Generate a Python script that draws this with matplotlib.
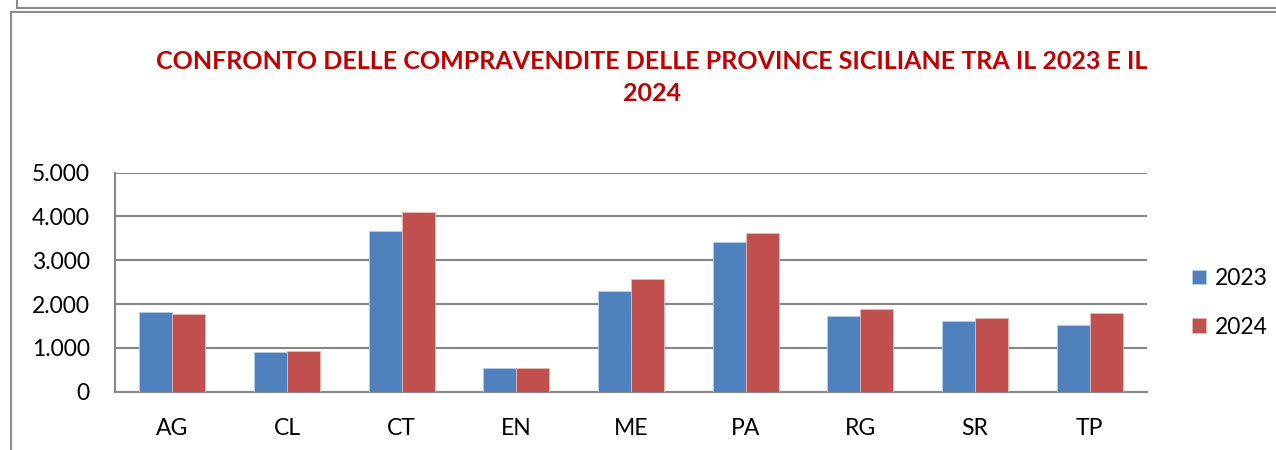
import matplotlib.pyplot as plt
from matplotlib.lines import Line2D
from matplotlib.ticker import FuncFormatter
import numpy as np

plt.rcParams['font.family'] = ['Lato', 'DejaVu Sans']

province = ["AG", "CL", "CT", "EN", "ME", "PA", "RG", "SR", "TP"]
anni = ["2023", "2024"]
vendite_2023 = [1813, 900, 3669, 548, 2299, 3411, 1735, 1614, 1523]
vendite_2024 = [1767, 929, 4096, 548, 2573, 3623, 1881, 1675, 1797]
colori = ["#4F81BD", "#C0504D"]

fig = plt.figure(figsize=(12.76, 4.5), dpi=100)
ax = fig.add_axes([0.0901, 0.1296, 0.8088, 0.4867])

x = np.arange(len(province))
w = 0.287
ax.bar(x - w / 2, vendite_2023, w, color=colori[0], edgecolor="#B9CDE5", linewidth=0.6, label=anni[0], zorder=3)
ax.bar(x + w / 2, vendite_2024, w, color=colori[1], edgecolor="#E6B9B8", linewidth=0.6, label=anni[1], zorder=3)

ax.set_xlim(-0.5, len(province) - 0.5)
ax.set_ylim(0, 5000)
ax.set_yticks(range(0, 5001, 1000))
ax.yaxis.set_major_formatter(FuncFormatter(lambda v, p: f"{int(v):,}".replace(",", ".")))
ax.set_xticks(x)
ax.set_xticklabels(province)
ax.tick_params(axis="both", length=0, labelsize=16.5, colors="black")
ax.tick_params(axis="y", pad=18)
ax.tick_params(axis="x", pad=19)
ax.grid(axis="y", color="#868686", linewidth=1.5, zorder=0)
for s in ["top", "right"]:
    ax.spines[s].set_visible(False)
for s in ["left", "bottom"]:
    ax.spines[s].set_color("#868686")
    ax.spines[s].set_linewidth(1.5)

leg = fig.legend(loc="center left", bbox_to_anchor=(0.918, 0.327), frameon=False, fontsize=16.5,
                 handlelength=0.6, handleheight=0.6, handletextpad=0.4, labelspacing=1.2)

fig.text(0.511, 0.828, "CONFRONTO DELLE COMPRAVENDITE DELLE PROVINCE SICILIANE TRA IL 2023 E IL\n2024",
         ha="center", va="center", color="#C00000", fontsize=18, fontweight="bold", linespacing=1.5)

# cornice del grafico
fig.add_artist(Line2D([11 / 1276, 11 / 1276], [0, 1 - 12 / 450], color="#8C8C8C", linewidth=1.5))
fig.add_artist(Line2D([11 / 1276, 1], [1 - 12 / 450, 1 - 12 / 450], color="#8C8C8C", linewidth=1.5))
fig.add_artist(Line2D([17 / 1276, 1], [1 - 8 / 450, 1 - 8 / 450], color="#8C8C8C", linewidth=1.5))
fig.add_artist(Line2D([17 / 1276, 17 / 1276], [1 - 8 / 450, 1], color="#8C8C8C", linewidth=1.5))

fig.savefig("out.png", dpi=100)
